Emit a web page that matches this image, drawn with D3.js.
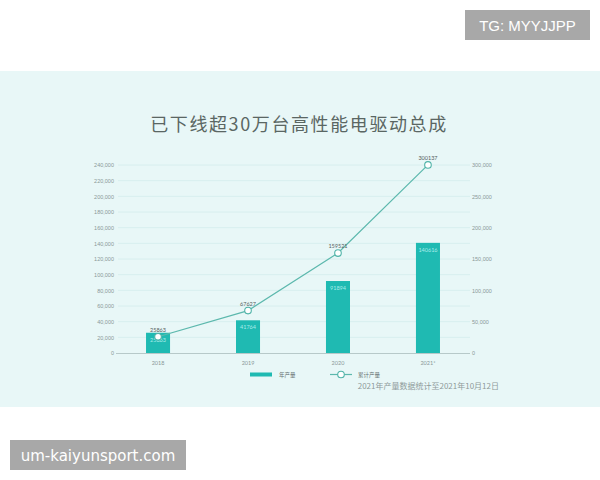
<!DOCTYPE html>
<html><head><meta charset="utf-8">
<script src="https://cdn.jsdelivr.net/npm/d3@7"></script>
<style>
body{margin:0;background:#fff;}
svg{display:block;font-family:"Lato","Noto Sans CJK SC",sans-serif;}
</style></head>
<body><svg id="c" width="600" height="480"></svg>
<script>
const categories = ["2018", "2019", "2020", "2021*"];
const annualOutput = [25863, 41764, 91894, 140616];
const cumulativeOutput = [25863, 67627, 159521, 300137];
const leftTicks = [0,20000,40000,60000,80000,100000,120000,140000,160000,180000,200000,220000,240000];
const rightTicks = [0,50000,100000,150000,200000,250000,300000];
const title = "已下线超30万台高性能电驱动总成";
const legendLabels = ["年产量", "累计产量"];
const note = "2021年产量数据统计至2021年10月12日";

const svg = d3.select("#c");
// panel
svg.append("rect").attr("x",0).attr("y",71).attr("width",600).attr("height",336).attr("fill","#e8f7f7");

const x = d3.scaleBand().domain(categories).range([113,473]).paddingInner(0.733).paddingOuter(0.367);
const yL = d3.scaleLinear().domain([0,240000]).range([353,165]);
const yR = d3.scaleLinear().domain([0,300000]).range([353,165]);

// gridlines
svg.append("g").selectAll("line").data(leftTicks.slice(1)).join("line")
  .attr("x1",118).attr("x2",470).attr("y1",d=>yL(d)).attr("y2",d=>yL(d))
  .attr("stroke","#d3ecec").attr("stroke-width",0.8);

// left axis
const ga = svg.append("g").attr("transform","translate(114,0)")
  .call(d3.axisLeft(yL).tickValues(leftTicks).tickSize(0).tickPadding(0).tickFormat(d3.format(",")));
ga.select(".domain").remove();
ga.selectAll("text").attr("fill","#8a9797").attr("font-size",5.5);

// right axis
const gr = svg.append("g").attr("transform","translate(472,0)")
  .call(d3.axisRight(yR).tickValues(rightTicks).tickSize(0).tickPadding(0).tickFormat(d3.format(",")));
gr.select(".domain").remove();
gr.selectAll("text").attr("fill","#8a9797").attr("font-size",5.5);

// bars
svg.append("g").selectAll("rect").data(annualOutput).join("rect")
  .attr("x",(d,i)=>x(categories[i])).attr("width",x.bandwidth())
  .attr("y",d=>yL(d)).attr("height",d=>yL(0)-yL(d))
  .attr("fill","#1fbab2");
svg.append("g").selectAll("text").data(annualOutput).join("text")
  .attr("x",(d,i)=>x(categories[i])+x.bandwidth()/2).attr("y",d=>yL(d)+9)
  .attr("text-anchor","middle").attr("font-size",5.5).attr("fill","#a9ecea")
  .text(d=>d);

// baseline
svg.append("line").attr("x1",116).attr("x2",470).attr("y1",353.5).attr("y2",353.5)
  .attr("stroke","#a9bcbc").attr("stroke-width",0.8);

// x labels
svg.append("g").selectAll("text").data(categories).join("text")
  .attr("x",d=>x(d)+x.bandwidth()/2).attr("y",365).attr("text-anchor","middle")
  .attr("font-size",5.5).attr("fill","#8a9797").text(d=>d);

// line
const line = d3.line().x((d,i)=>x(categories[i])+x.bandwidth()/2).y(d=>yR(d));
svg.append("path").datum(cumulativeOutput).attr("d",line).attr("fill","none")
  .attr("stroke","#5cb8ad").attr("stroke-width",1.2);
svg.append("g").selectAll("circle").data(cumulativeOutput).join("circle")
  .attr("cx",(d,i)=>x(categories[i])+x.bandwidth()/2).attr("cy",d=>yR(d)).attr("r",3.3)
  .attr("fill","#fff").attr("stroke","#4fb3a8").attr("stroke-width",1.1);
svg.append("g").selectAll("text").data(cumulativeOutput).join("text")
  .attr("x",(d,i)=>x(categories[i])+x.bandwidth()/2).attr("y",d=>yR(d)-5)
  .attr("text-anchor","middle").attr("font-size",5.5).attr("fill","#556060").text(d=>d);

// title
svg.append("text").attr("x",299).attr("y",131).attr("text-anchor","middle")
  .attr("font-family","Noto Sans CJK SC").attr("font-size",18).attr("letter-spacing",1.6)
  .attr("fill","#5a6663").text(title);

// legend
svg.append("rect").attr("x",250).attr("y",372.5).attr("width",22).attr("height",4).attr("fill","#1fbab2");
svg.append("text").attr("x",279).attr("y",376.5).attr("font-size",5.5).attr("font-family","Noto Sans CJK SC")
  .attr("fill","#667272").text(legendLabels[0]);
svg.append("line").attr("x1",330).attr("x2",352).attr("y1",374.5).attr("y2",374.5).attr("stroke","#5cb8ad").attr("stroke-width",1.2);
svg.append("circle").attr("cx",341).attr("cy",374.5).attr("r",3.3).attr("fill","#fff").attr("stroke","#4fb3a8").attr("stroke-width",1.1);
svg.append("text").attr("x",358).attr("y",376.5).attr("font-size",5.5).attr("font-family","Noto Sans CJK SC")
  .attr("fill","#667272").text(legendLabels[1]);
svg.append("text").attr("x",499).attr("y",389).attr("text-anchor","end").attr("font-size",8)
  .attr("font-family","Noto Sans CJK SC").attr("fill","#8e9a9a").text(note);

// watermarks
svg.append("rect").attr("x",465).attr("y",10).attr("width",125).attr("height",30).attr("fill","#a8a8a8");
svg.append("text").attr("x",527.5).attr("y",30.5).attr("text-anchor","middle").attr("font-size",15)
  .attr("font-family","Liberation Sans, Arial, sans-serif").attr("fill","#fff").text("TG: MYYJJPP");
svg.append("rect").attr("x",10).attr("y",440).attr("width",176).attr("height",30).attr("fill","#a8a8a8");
svg.append("text").attr("x",98).attr("y",460.5).attr("text-anchor","middle").attr("font-size",15)
  .attr("font-family","DejaVu Sans, sans-serif").attr("fill","#fff").text("um-kaiyunsport.com");
</script></body></html>
